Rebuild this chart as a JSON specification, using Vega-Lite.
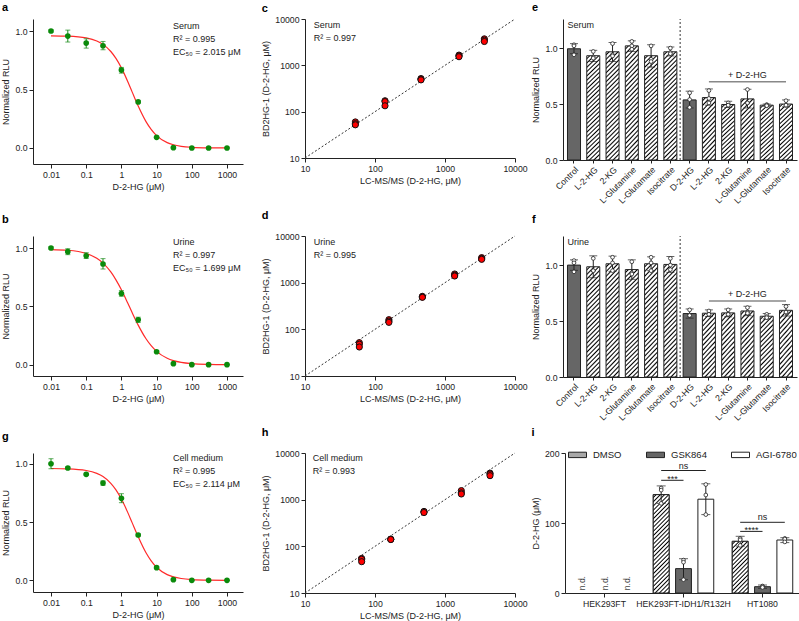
{
"$schema": "https://vega.github.io/schema/vega-lite/v6.json",
"background": "white",
"padding": {"left": 1, "top": 1, "right": 0, "bottom": 0},
"config": {
  "font": "Liberation Sans",
  "view": {"stroke": null},
  "axis": {"grid": false, "domainColor": "#222", "tickColor": "#222", "labelColor": "#222", "titleColor": "#222", "labelFontSize": 8.7, "titleFontSize": 9, "titleFontWeight": "normal", "tickSize": 4, "labelPadding": 2, "titlePadding": 4, "labelFlush": false, "labelOverlap": false, "domainWidth": 1, "tickWidth": 1},
  "title": {"fontSize": 11, "fontWeight": "bold", "anchor": "start", "frame": "bounds", "offset": 11, "color": "#000"}
},
"datasets": {
  "doseA": [{"x":0.01,"y":1.0,"lo":0.99,"hi":1.01},{"x":0.03,"y":0.957,"lo":0.906,"hi":1.008},{"x":0.1,"y":0.897,"lo":0.854,"hi":0.934},{"x":0.3,"y":0.874,"lo":0.84,"hi":0.911},{"x":1,"y":0.666,"lo":0.64,"hi":0.689},{"x":3,"y":0.394,"lo":0.385,"hi":0.403},{"x":10,"y":0.091,"lo":0.085,"hi":0.097},{"x":30,"y":0.003,"lo":0.0,"hi":0.006},{"x":100,"y":0.0,"lo":0.0,"hi":0.0},{"x":300,"y":0.0,"lo":0.0,"hi":0.0},{"x":1000,"y":0.0,"lo":0.0,"hi":0.0}],
  "doseB": [{"x":0.01,"y":1.0,"lo":0.99,"hi":1.01},{"x":0.03,"y":0.969,"lo":0.943,"hi":0.994},{"x":0.1,"y":0.934,"lo":0.91,"hi":0.96},{"x":0.3,"y":0.863,"lo":0.82,"hi":0.909},{"x":1,"y":0.61,"lo":0.587,"hi":0.635},{"x":3,"y":0.385,"lo":0.362,"hi":0.407},{"x":10,"y":0.111,"lo":0.105,"hi":0.117},{"x":30,"y":0.009,"lo":0.004,"hi":0.014},{"x":100,"y":0.0,"lo":0.0,"hi":0.0},{"x":300,"y":0.0,"lo":0.0,"hi":0.0},{"x":1000,"y":0.0,"lo":0.0,"hi":0.0}],
  "doseG": [{"x":0.01,"y":1.0,"lo":0.957,"hi":1.043},{"x":0.03,"y":0.963,"lo":0.955,"hi":0.971},{"x":0.1,"y":0.909,"lo":0.9,"hi":0.918},{"x":0.3,"y":0.834,"lo":0.815,"hi":0.853},{"x":1,"y":0.703,"lo":0.666,"hi":0.743},{"x":3,"y":0.389,"lo":0.38,"hi":0.398},{"x":10,"y":0.109,"lo":0.103,"hi":0.115},{"x":30,"y":0.006,"lo":0.002,"hi":0.01},{"x":100,"y":0.0,"lo":0.0,"hi":0.0},{"x":300,"y":0.0,"lo":0.0,"hi":0.0},{"x":1000,"y":0.0,"lo":0.0,"hi":0.0}],
  "curveA": [{"x":0.01,"y":0.959},{"x":0.03,"y":0.956},{"x":0.1,"y":0.941},{"x":0.2,"y":0.915},{"x":0.3,"y":0.886},{"x":0.5,"y":0.825},{"x":0.7,"y":0.766},{"x":1,"y":0.685},{"x":1.5,"y":0.571},{"x":2,"y":0.482},{"x":3,"y":0.358},{"x":5,"y":0.225},{"x":7,"y":0.159},{"x":10,"y":0.106},{"x":20,"y":0.046},{"x":30,"y":0.028},{"x":50,"y":0.0145},{"x":100,"y":0.006},{"x":300,"y":0.0014},{"x":1000,"y":0.0004}],
  "curveB": [{"x":0.01,"y":0.987},{"x":0.03,"y":0.981},{"x":0.1,"y":0.953},{"x":0.2,"y":0.912},{"x":0.3,"y":0.871},{"x":0.5,"y":0.795},{"x":0.7,"y":0.727},{"x":1,"y":0.642},{"x":1.5,"y":0.531},{"x":2,"y":0.449},{"x":3,"y":0.339},{"x":5,"y":0.222},{"x":7,"y":0.163},{"x":10,"y":0.114},{"x":20,"y":0.055},{"x":30,"y":0.035},{"x":50,"y":0.0198},{"x":100,"y":0.009},{"x":300,"y":0.0026},{"x":1000,"y":0.0006}],
  "curveG": [{"x":0.01,"y":0.959},{"x":0.03,"y":0.956},{"x":0.1,"y":0.942},{"x":0.2,"y":0.917},{"x":0.3,"y":0.89},{"x":0.5,"y":0.832},{"x":0.7,"y":0.776},{"x":1,"y":0.697},{"x":1.5,"y":0.585},{"x":2,"y":0.497},{"x":3,"y":0.373},{"x":5,"y":0.236},{"x":7,"y":0.167},{"x":10,"y":0.112},{"x":20,"y":0.049},{"x":30,"y":0.03},{"x":50,"y":0.0155},{"x":100,"y":0.0063},{"x":300,"y":0.0015},{"x":1000,"y":0.0003}],
  "diag": [{"x":10,"y":10},{"x":10000,"y":10000}],
  "scatC": [{"x":52.4,"y":60},{"x":52.4,"y":55},{"x":52.4,"y":52},{"x":139,"y":172},{"x":139,"y":165},{"x":139,"y":134},{"x":454,"y":518},{"x":454,"y":500},{"x":454,"y":485},{"x":1585,"y":1663},{"x":1585,"y":1600},{"x":1585,"y":1534},{"x":3648,"y":3728},{"x":3648,"y":3500},{"x":3648,"y":3268}],
  "scatD": [{"x":59.7,"y":51.8},{"x":59.7,"y":48},{"x":59.7,"y":41.8},{"x":158,"y":161},{"x":158,"y":150},{"x":158,"y":141},{"x":475,"y":509},{"x":475,"y":495},{"x":475,"y":485},{"x":1374,"y":1534},{"x":1374,"y":1450},{"x":1374,"y":1389},{"x":3342,"y":3433},{"x":3342,"y":3300},{"x":3342,"y":3162}],
  "scatH": [{"x":64.5,"y":55},{"x":64.5,"y":52.7},{"x":64.5,"y":46.9},{"x":168,"y":143},{"x":168,"y":141},{"x":168,"y":140},{"x":501,"y":544},{"x":501,"y":560},{"x":501,"y":530},{"x":1710,"y":1560},{"x":1710,"y":1400},{"x":1710,"y":1322},{"x":4395,"y":3700},{"x":4395,"y":3548},{"x":4395,"y":3268}],
  "barsE": [{"cond":"Control","kind":"solid","mean":0.994,"lo":0.95,"hi":1.04},{"cond":"L-2-HG","kind":"hatch","mean":0.932,"lo":0.88,"hi":0.98},{"cond":"2-KG","kind":"hatch","mean":0.967,"lo":0.88,"hi":1.05},{"cond":"L-Glutamine","kind":"hatch","mean":1.02,"lo":0.97,"hi":1.065},{"cond":"L-Glutamate","kind":"hatch","mean":0.932,"lo":0.83,"hi":1.03},{"cond":"Isocitrate","kind":"hatch","mean":0.967,"lo":0.93,"hi":1.01},{"cond":"D-2-HG","kind":"solid","mean":0.537,"lo":0.465,"hi":0.615},{"cond":"L-2-HG\u200b","kind":"hatch","mean":0.558,"lo":0.49,"hi":0.635},{"cond":"2-KG\u200b","kind":"hatch","mean":0.496,"lo":0.47,"hi":0.525},{"cond":"L-Glutamine\u200b","kind":"hatch","mean":0.546,"lo":0.465,"hi":0.632},{"cond":"L-Glutamate\u200b","kind":"hatch","mean":0.49,"lo":0.48,"hi":0.5},{"cond":"Isocitrate\u200b","kind":"hatch","mean":0.5,"lo":0.475,"hi":0.537}],
  "barsF": [{"cond":"Control","kind":"solid","mean":1.0,"lo":0.953,"hi":1.047},{"cond":"L-2-HG","kind":"hatch","mean":0.985,"lo":0.887,"hi":1.083},{"cond":"2-KG","kind":"hatch","mean":1.012,"lo":0.944,"hi":1.08},{"cond":"L-Glutamine","kind":"hatch","mean":0.96,"lo":0.873,"hi":1.047},{"cond":"L-Glutamate","kind":"hatch","mean":1.012,"lo":0.95,"hi":1.074},{"cond":"Isocitrate","kind":"hatch","mean":1.006,"lo":0.935,"hi":1.077},{"cond":"D-2-HG","kind":"solid","mean":0.567,"lo":0.526,"hi":0.608},{"cond":"L-2-HG\u200b","kind":"hatch","mean":0.57,"lo":0.54,"hi":0.6},{"cond":"2-KG\u200b","kind":"hatch","mean":0.573,"lo":0.538,"hi":0.608},{"cond":"L-Glutamine\u200b","kind":"hatch","mean":0.59,"lo":0.548,"hi":0.632},{"cond":"L-Glutamate\u200b","kind":"hatch","mean":0.543,"lo":0.519,"hi":0.567},{"cond":"Isocitrate\u200b","kind":"hatch","mean":0.596,"lo":0.545,"hi":0.647}],
  "ptsE": [{"cond":"Control","v":1.03},{"cond":"Control","v":1.02},{"cond":"Control","v":0.94},{"cond":"L-2-HG","v":0.97},{"cond":"L-2-HG","v":0.92},{"cond":"L-2-HG","v":0.91},{"cond":"2-KG","v":1.04},{"cond":"2-KG","v":0.94},{"cond":"2-KG","v":0.93},{"cond":"L-Glutamine","v":1.06},{"cond":"L-Glutamine","v":1.02},{"cond":"L-Glutamine","v":0.99},{"cond":"L-Glutamate","v":1.02},{"cond":"L-Glutamate","v":0.9},{"cond":"L-Glutamate","v":0.88},{"cond":"Isocitrate","v":1.0},{"cond":"Isocitrate","v":0.96},{"cond":"Isocitrate","v":0.95},{"cond":"D-2-HG","v":0.6},{"cond":"D-2-HG","v":0.54},{"cond":"D-2-HG","v":0.47},{"cond":"L-2-HG\u200b","v":0.62},{"cond":"L-2-HG\u200b","v":0.55},{"cond":"L-2-HG\u200b","v":0.51},{"cond":"2-KG\u200b","v":0.51},{"cond":"2-KG\u200b","v":0.49},{"cond":"2-KG\u200b","v":0.49},{"cond":"L-Glutamine\u200b","v":0.63},{"cond":"L-Glutamine\u200b","v":0.51},{"cond":"L-Glutamine\u200b","v":0.51},{"cond":"L-Glutamate\u200b","v":0.495},{"cond":"L-Glutamate\u200b","v":0.49},{"cond":"L-Glutamate\u200b","v":0.485},{"cond":"Isocitrate\u200b","v":0.53},{"cond":"Isocitrate\u200b","v":0.49},{"cond":"Isocitrate\u200b","v":0.49}],
  "ptsF": [{"cond":"Control","v":1.04},{"cond":"Control","v":1.02},{"cond":"Control","v":0.94},{"cond":"L-2-HG","v":1.06},{"cond":"L-2-HG","v":0.95},{"cond":"L-2-HG","v":0.95},{"cond":"2-KG","v":1.07},{"cond":"2-KG","v":1.02},{"cond":"2-KG","v":0.95},{"cond":"L-Glutamine","v":1.03},{"cond":"L-Glutamine","v":0.93},{"cond":"L-Glutamine","v":0.92},{"cond":"L-Glutamate","v":1.07},{"cond":"L-Glutamate","v":1.02},{"cond":"L-Glutamate","v":0.95},{"cond":"Isocitrate","v":1.06},{"cond":"Isocitrate","v":1.0},{"cond":"Isocitrate","v":0.96},{"cond":"D-2-HG","v":0.6},{"cond":"D-2-HG","v":0.55},{"cond":"D-2-HG","v":0.55},{"cond":"L-2-HG\u200b","v":0.59},{"cond":"L-2-HG\u200b","v":0.56},{"cond":"L-2-HG\u200b","v":0.56},{"cond":"2-KG\u200b","v":0.6},{"cond":"2-KG\u200b","v":0.56},{"cond":"2-KG\u200b","v":0.56},{"cond":"L-Glutamine\u200b","v":0.62},{"cond":"L-Glutamine\u200b","v":0.58},{"cond":"L-Glutamine\u200b","v":0.57},{"cond":"L-Glutamate\u200b","v":0.56},{"cond":"L-Glutamate\u200b","v":0.54},{"cond":"L-Glutamate\u200b","v":0.53},{"cond":"Isocitrate\u200b","v":0.63},{"cond":"Isocitrate\u200b","v":0.58},{"cond":"Isocitrate\u200b","v":0.58}],
  "barsI": [{"group":"HEK293FT-IDH1/R132H","treatment":"DMSO","mean":140.5,"lo":128,"hi":153},{"group":"HEK293FT-IDH1/R132H","treatment":"GSK864","mean":34.8,"lo":19,"hi":49},{"group":"HEK293FT-IDH1/R132H","treatment":"AGI-6780","mean":134,"lo":112,"hi":156},{"group":"HT1080","treatment":"DMSO","mean":73.8,"lo":67,"hi":81},{"group":"HT1080","treatment":"GSK864","mean":9,"lo":6.7,"hi":11.4},{"group":"HT1080","treatment":"AGI-6780","mean":75.7,"lo":72,"hi":79}],
  "ptsI": [{"group":"HEK293FT-IDH1/R132H","treatment":"DMSO","v":150},{"group":"HEK293FT-IDH1/R132H","treatment":"DMSO","v":147},{"group":"HEK293FT-IDH1/R132H","treatment":"DMSO","v":128},{"group":"HEK293FT-IDH1/R132H","treatment":"GSK864","v":47},{"group":"HEK293FT-IDH1/R132H","treatment":"GSK864","v":44},{"group":"HEK293FT-IDH1/R132H","treatment":"GSK864","v":19},{"group":"HEK293FT-IDH1/R132H","treatment":"AGI-6780","v":155},{"group":"HEK293FT-IDH1/R132H","treatment":"AGI-6780","v":140},{"group":"HEK293FT-IDH1/R132H","treatment":"AGI-6780","v":112},{"group":"HT1080","treatment":"DMSO","v":78},{"group":"HT1080","treatment":"DMSO","v":76},{"group":"HT1080","treatment":"DMSO","v":68},{"group":"HT1080","treatment":"GSK864","v":10},{"group":"HT1080","treatment":"GSK864","v":9},{"group":"HT1080","treatment":"GSK864","v":8},{"group":"HT1080","treatment":"AGI-6780","v":78},{"group":"HT1080","treatment":"AGI-6780","v":77},{"group":"HT1080","treatment":"AGI-6780","v":73}],
  "ndI": [{"group":"HEK293FT","treatment":"DMSO"},{"group":"HEK293FT","treatment":"GSK864"},{"group":"HEK293FT","treatment":"AGI-6780"}],
  "sigI": [{"id":"s1","group":"HEK293FT-IDH1/R132H","treatment":"DMSO","y":161},{"id":"s1","group":"HEK293FT-IDH1/R132H","treatment":"GSK864","y":161},{"id":"s2","group":"HEK293FT-IDH1/R132H","treatment":"DMSO","y":175},{"id":"s2","group":"HEK293FT-IDH1/R132H","treatment":"AGI-6780","y":175},{"id":"s3","group":"HT1080","treatment":"DMSO","y":88},{"id":"s3","group":"HT1080","treatment":"GSK864","y":88},{"id":"s4","group":"HT1080","treatment":"DMSO","y":101},{"id":"s4","group":"HT1080","treatment":"AGI-6780","y":101}],
  "starI": [{"group":"HEK293FT-IDH1/R132H","treatment":"GSK864","y":161,"label":"***"},{"group":"HT1080","treatment":"GSK864","y":88,"label":"****"}],
  "nsI": [{"group":"HEK293FT-IDH1/R132H","treatment":"GSK864","y":175,"label":"ns"},{"group":"HT1080","treatment":"GSK864","y":101,"label":"ns"}]
},
"spacing": 5,
"vconcat": [
 {"spacing": 3, "hconcat": [
  {"spacing": 18, "hconcat": [
   {"title": {"text": "a", "offset": 6}, "width": 210, "height": 145, "layer": [
    {"data": {"name": "curveA"}, "mark": {"type": "line", "color": "#ff2a2a", "strokeWidth": 1.2, "interpolate": "monotone"},
     "encoding": {"x": {"field": "x", "type": "quantitative", "scale": {"type": "log", "domain": [0.00308, 2847], "nice": false}, "axis": {"values": [0.01, 0.1, 1, 10, 100, 1000], "format": "~g"}, "title": "D-2-HG (μM)"},
                  "y": {"field": "y", "type": "quantitative", "scale": {"domain": [-0.137, 1.103], "nice": false, "zero": false}, "axis": {"values": [0, 0.5, 1], "format": ".1f"}, "title": "Normalized RLU"}}},
    {"data": {"name": "doseA"}, "mark": {"type": "rule", "color": "#1a8c1a", "strokeWidth": 1}, "encoding": {"x": {"field": "x", "type": "quantitative", "title": "D-2-HG (μM)"}, "y": {"field": "lo", "type": "quantitative", "title": "Normalized RLU"}, "y2": {"field": "hi"}}},
    {"data": {"name": "doseA"}, "mark": {"type": "tick", "orient": "horizontal", "color": "#1a8c1a", "size": 5, "thickness": 1}, "encoding": {"x": {"field": "x", "type": "quantitative", "title": "D-2-HG (μM)"}, "y": {"field": "hi", "type": "quantitative", "title": "Normalized RLU"}}},
    {"data": {"name": "doseA"}, "mark": {"type": "tick", "orient": "horizontal", "color": "#1a8c1a", "size": 5, "thickness": 1}, "encoding": {"x": {"field": "x", "type": "quantitative", "title": "D-2-HG (μM)"}, "y": {"field": "lo", "type": "quantitative", "title": "Normalized RLU"}}},
    {"data": {"name": "doseA"}, "mark": {"type": "circle", "color": "#0b8a0b", "size": 32, "opacity": 1}, "encoding": {"x": {"field": "x", "type": "quantitative", "title": "D-2-HG (μM)"}, "y": {"field": "y", "type": "quantitative", "title": "Normalized RLU"}}},
    {"data": {"values": [{}]}, "mark": {"type": "text", "text": ["Serum", "R² = 0.995", "EC₅₀ = 2.015 μM"], "align": "left", "baseline": "top", "fontSize": 9, "lineHeight": 13, "color": "#222"}, "encoding": {"x": {"datum": 29}, "y": {"datum": 1.08}}}
   ]},
   {"title": {"text": "c", "offset": 1}, "width": 210, "height": 139, "layer": [
    {"data": {"name": "diag"}, "mark": {"type": "line", "color": "#333", "strokeWidth": 1, "strokeDash": [2, 2]},
     "encoding": {"x": {"field": "x", "type": "quantitative", "scale": {"type": "log", "domain": [10, 10000], "nice": false}, "axis": {"values": [10, 100, 1000, 10000], "format": "~g"}, "title": "LC-MS/MS (D-2-HG, μM)"},
                  "y": {"field": "y", "type": "quantitative", "scale": {"type": "log", "domain": [10, 10000], "nice": false}, "axis": {"values": [10, 100, 1000, 10000], "format": "~g"}, "title": "BD2HG-1 (D-2-HG, μM)"}}},
    {"data": {"name": "scatC"}, "mark": {"type": "point", "shape": "circle", "filled": true, "fill": "#ff0000", "stroke": "#111", "strokeWidth": 1, "size": 38, "opacity": 1}, "encoding": {"x": {"field": "x", "type": "quantitative", "title": "LC-MS/MS (D-2-HG, μM)"}, "y": {"field": "y", "type": "quantitative", "title": "BD2HG-1 (D-2-HG, μM)"}}},
    {"data": {"values": [{}]}, "mark": {"type": "text", "text": ["Serum", "R² = 0.997"], "align": "left", "baseline": "top", "fontSize": 9, "lineHeight": 13, "color": "#222"}, "encoding": {"x": {"datum": 13.3}, "y": {"datum": 9000}}}
   ]}
  ]},
  {"title": {"text": "e", "offset": 6}, "width": 234, "height": 141, "layer": [
    {"data": {"name": "barsE"}, "transform": [{"filter": "datum.kind === 'solid'"}], "mark": {"type": "bar", "fill": "#666666", "stroke": "#222", "strokeWidth": 1},
     "encoding": {"x": {"field": "cond", "type": "nominal", "scale": {"domain": ["Control", "L-2-HG", "2-KG", "L-Glutamine", "L-Glutamate", "Isocitrate", "D-2-HG", "L-2-HG\u200b", "2-KG\u200b", "L-Glutamine\u200b", "L-Glutamate\u200b", "Isocitrate\u200b"], "paddingInner": 0.325, "paddingOuter": 0.233}, "axis": {"labelAngle": -45, "labelAlign": "right", "labelBaseline": "top", "tickSize": 3}, "title": null},
                  "y": {"field": "mean", "type": "quantitative", "scale": {"domain": [0, 1.26], "nice": false}, "axis": {"values": [0, 0.5, 1], "format": ".1f"}, "title": "Normalized RLU"}}},
    {"data": {"name": "barsE"}, "transform": [{"filter": "datum.kind === 'hatch' && datum.mean > 0.75"}], "mark": {"type": "bar", "stroke": "#222", "strokeWidth": 1, "fill": {"gradient": "linear", "x1": 0, "y1": 0, "x2": 0.133, "y2": 1.104, "stops": [{"offset":0,"color":"#fff"},{"offset":0.013,"color":"#fff"},{"offset":0.0259,"color":"#000"},{"offset":0.037,"color":"#fff"},{"offset":0.05,"color":"#fff"},{"offset":0.063,"color":"#000"},{"offset":0.0741,"color":"#fff"},{"offset":0.087,"color":"#fff"},{"offset":0.1,"color":"#000"},{"offset":0.1111,"color":"#fff"},{"offset":0.1241,"color":"#fff"},{"offset":0.137,"color":"#000"},{"offset":0.1481,"color":"#fff"},{"offset":0.1611,"color":"#fff"},{"offset":0.1741,"color":"#000"},{"offset":0.1852,"color":"#fff"},{"offset":0.1981,"color":"#fff"},{"offset":0.2111,"color":"#000"},{"offset":0.2222,"color":"#fff"},{"offset":0.2352,"color":"#fff"},{"offset":0.2481,"color":"#000"},{"offset":0.2593,"color":"#fff"},{"offset":0.2722,"color":"#fff"},{"offset":0.2852,"color":"#000"},{"offset":0.2963,"color":"#fff"},{"offset":0.3093,"color":"#fff"},{"offset":0.3222,"color":"#000"},{"offset":0.3333,"color":"#fff"},{"offset":0.3463,"color":"#fff"},{"offset":0.3593,"color":"#000"},{"offset":0.3704,"color":"#fff"},{"offset":0.3833,"color":"#fff"},{"offset":0.3963,"color":"#000"},{"offset":0.4074,"color":"#fff"},{"offset":0.4204,"color":"#fff"},{"offset":0.4333,"color":"#000"},{"offset":0.4444,"color":"#fff"},{"offset":0.4574,"color":"#fff"},{"offset":0.4704,"color":"#000"},{"offset":0.4815,"color":"#fff"},{"offset":0.4944,"color":"#fff"},{"offset":0.5074,"color":"#000"},{"offset":0.5185,"color":"#fff"},{"offset":0.5315,"color":"#fff"},{"offset":0.5444,"color":"#000"},{"offset":0.5556,"color":"#fff"},{"offset":0.5685,"color":"#fff"},{"offset":0.5815,"color":"#000"},{"offset":0.5926,"color":"#fff"},{"offset":0.6056,"color":"#fff"},{"offset":0.6185,"color":"#000"},{"offset":0.6296,"color":"#fff"},{"offset":0.6426,"color":"#fff"},{"offset":0.6556,"color":"#000"},{"offset":0.6667,"color":"#fff"},{"offset":0.6796,"color":"#fff"},{"offset":0.6926,"color":"#000"},{"offset":0.7037,"color":"#fff"},{"offset":0.7167,"color":"#fff"},{"offset":0.7296,"color":"#000"},{"offset":0.7407,"color":"#fff"},{"offset":0.7537,"color":"#fff"},{"offset":0.7667,"color":"#000"},{"offset":0.7778,"color":"#fff"},{"offset":0.7907,"color":"#fff"},{"offset":0.8037,"color":"#000"},{"offset":0.8148,"color":"#fff"},{"offset":0.8278,"color":"#fff"},{"offset":0.8407,"color":"#000"},{"offset":0.8519,"color":"#fff"},{"offset":0.8648,"color":"#fff"},{"offset":0.8778,"color":"#000"},{"offset":0.8889,"color":"#fff"},{"offset":0.9019,"color":"#fff"},{"offset":0.9148,"color":"#000"},{"offset":0.9259,"color":"#fff"},{"offset":0.9389,"color":"#fff"},{"offset":0.9519,"color":"#000"},{"offset":0.963,"color":"#fff"},{"offset":0.9759,"color":"#fff"},{"offset":0.9889,"color":"#000"},{"offset":1,"color":"#fff"}]}}, "encoding": {"x": {"field": "cond", "type": "nominal", "title": null}, "y": {"field": "mean", "type": "quantitative", "title": "Normalized RLU"}}},
    {"data": {"name": "barsE"}, "transform": [{"filter": "datum.kind === 'hatch' && datum.mean <= 0.75"}], "mark": {"type": "bar", "stroke": "#222", "strokeWidth": 1, "fill": {"gradient": "linear", "x1": 0, "y1": 0, "x2": 0.256, "y2": 1.164, "stops": [{"offset":0,"color":"#fff"},{"offset":0.0219,"color":"#fff"},{"offset":0.0438,"color":"#000"},{"offset":0.0625,"color":"#fff"},{"offset":0.0844,"color":"#fff"},{"offset":0.1063,"color":"#000"},{"offset":0.125,"color":"#fff"},{"offset":0.1469,"color":"#fff"},{"offset":0.1688,"color":"#000"},{"offset":0.1875,"color":"#fff"},{"offset":0.2094,"color":"#fff"},{"offset":0.2313,"color":"#000"},{"offset":0.25,"color":"#fff"},{"offset":0.2719,"color":"#fff"},{"offset":0.2938,"color":"#000"},{"offset":0.3125,"color":"#fff"},{"offset":0.3344,"color":"#fff"},{"offset":0.3563,"color":"#000"},{"offset":0.375,"color":"#fff"},{"offset":0.3969,"color":"#fff"},{"offset":0.4188,"color":"#000"},{"offset":0.4375,"color":"#fff"},{"offset":0.4594,"color":"#fff"},{"offset":0.4813,"color":"#000"},{"offset":0.5,"color":"#fff"},{"offset":0.5219,"color":"#fff"},{"offset":0.5438,"color":"#000"},{"offset":0.5625,"color":"#fff"},{"offset":0.5844,"color":"#fff"},{"offset":0.6063,"color":"#000"},{"offset":0.625,"color":"#fff"},{"offset":0.6469,"color":"#fff"},{"offset":0.6688,"color":"#000"},{"offset":0.6875,"color":"#fff"},{"offset":0.7094,"color":"#fff"},{"offset":0.7313,"color":"#000"},{"offset":0.75,"color":"#fff"},{"offset":0.7719,"color":"#fff"},{"offset":0.7938,"color":"#000"},{"offset":0.8125,"color":"#fff"},{"offset":0.8344,"color":"#fff"},{"offset":0.8563,"color":"#000"},{"offset":0.875,"color":"#fff"},{"offset":0.8969,"color":"#fff"},{"offset":0.9188,"color":"#000"},{"offset":0.9375,"color":"#fff"},{"offset":0.9594,"color":"#fff"},{"offset":0.9813,"color":"#000"},{"offset":1,"color":"#fff"}]}}, "encoding": {"x": {"field": "cond", "type": "nominal", "title": null}, "y": {"field": "mean", "type": "quantitative", "title": "Normalized RLU"}}},
    {"data": {"name": "barsE"}, "mark": {"type": "rule", "color": "#222", "strokeWidth": 1}, "encoding": {"x": {"field": "cond", "type": "nominal", "title": null}, "y": {"field": "lo", "type": "quantitative", "title": "Normalized RLU"}, "y2": {"field": "hi"}}},
    {"data": {"name": "barsE"}, "mark": {"type": "tick", "orient": "horizontal", "color": "#222", "size": 8, "thickness": 1}, "encoding": {"x": {"field": "cond", "type": "nominal", "title": null}, "y": {"field": "hi", "type": "quantitative", "title": "Normalized RLU"}}},
    {"data": {"name": "barsE"}, "mark": {"type": "tick", "orient": "horizontal", "color": "#222", "size": 8, "thickness": 1}, "encoding": {"x": {"field": "cond", "type": "nominal", "title": null}, "y": {"field": "lo", "type": "quantitative", "title": "Normalized RLU"}}},
    {"data": {"name": "ptsE"}, "mark": {"type": "point", "shape": "circle", "filled": true, "fill": "#fff", "stroke": "#222", "strokeWidth": 0.8, "size": 14, "opacity": 1}, "encoding": {"x": {"field": "cond", "type": "nominal", "title": null}, "y": {"field": "v", "type": "quantitative", "title": "Normalized RLU"}}},
    {"data": {"values": [{}]}, "mark": {"type": "rule", "color": "#333", "strokeDash": [2, 2], "strokeWidth": 1, "xOffset": -3}, "encoding": {"x": {"datum": "D-2-HG", "type": "nominal", "bandPosition": 0}, "y": {"datum": 0, "type": "quantitative"}, "y2": {"datum": 1.26}}},
    {"data": {"values": [{}]}, "mark": {"type": "rule", "color": "#888", "strokeWidth": 1.5}, "encoding": {"x": {"datum": "L-2-HG\u200b", "type": "nominal"}, "x2": {"datum": "Isocitrate\u200b"}, "y": {"datum": 0.7, "type": "quantitative"}}},
    {"data": {"values": [{}]}, "mark": {"type": "text", "text": "+ D-2-HG", "baseline": "bottom", "dy": -2, "fontSize": 9, "color": "#222"}, "encoding": {"x": {"datum": "L-Glutamine\u200b", "type": "nominal"}, "y": {"datum": 0.7, "type": "quantitative"}}},
    {"data": {"values": [{}]}, "mark": {"type": "text", "text": "Serum", "align": "left", "baseline": "top", "fontSize": 9, "color": "#222"}, "encoding": {"x": {"datum": "Control", "type": "nominal", "bandPosition": 0}, "y": {"datum": 1.24, "type": "quantitative"}}}
  ]}
 ]},
 {"spacing": 3, "hconcat": [
  {"spacing": 18, "hconcat": [
   {"title": {"text": "b"}, "width": 210, "height": 140, "layer": [
    {"data": {"name": "curveB"}, "mark": {"type": "line", "color": "#ff2a2a", "strokeWidth": 1.2, "interpolate": "monotone"},
     "encoding": {"x": {"field": "x", "type": "quantitative", "scale": {"type": "log", "domain": [0.00308, 2847], "nice": false}, "axis": {"values": [0.01, 0.1, 1, 10, 100, 1000], "format": "~g"}, "title": "D-2-HG (μM)"},
                  "y": {"field": "y", "type": "quantitative", "scale": {"domain": [-0.097, 1.103], "nice": false, "zero": false}, "axis": {"values": [0, 0.5, 1], "format": ".1f"}, "title": "Normalized RLU"}}},
    {"data": {"name": "doseB"}, "mark": {"type": "rule", "color": "#1a8c1a", "strokeWidth": 1}, "encoding": {"x": {"field": "x", "type": "quantitative", "title": "D-2-HG (μM)"}, "y": {"field": "lo", "type": "quantitative", "title": "Normalized RLU"}, "y2": {"field": "hi"}}},
    {"data": {"name": "doseB"}, "mark": {"type": "tick", "orient": "horizontal", "color": "#1a8c1a", "size": 5, "thickness": 1}, "encoding": {"x": {"field": "x", "type": "quantitative", "title": "D-2-HG (μM)"}, "y": {"field": "hi", "type": "quantitative", "title": "Normalized RLU"}}},
    {"data": {"name": "doseB"}, "mark": {"type": "tick", "orient": "horizontal", "color": "#1a8c1a", "size": 5, "thickness": 1}, "encoding": {"x": {"field": "x", "type": "quantitative", "title": "D-2-HG (μM)"}, "y": {"field": "lo", "type": "quantitative", "title": "Normalized RLU"}}},
    {"data": {"name": "doseB"}, "mark": {"type": "circle", "color": "#0b8a0b", "size": 32, "opacity": 1}, "encoding": {"x": {"field": "x", "type": "quantitative", "title": "D-2-HG (μM)"}, "y": {"field": "y", "type": "quantitative", "title": "Normalized RLU"}}},
    {"data": {"values": [{}]}, "mark": {"type": "text", "text": ["Urine", "R² = 0.997", "EC₅₀ = 1.699 μM"], "align": "left", "baseline": "top", "fontSize": 9, "lineHeight": 13, "color": "#222"}, "encoding": {"x": {"datum": 29}, "y": {"datum": 1.085}}}
   ]},
   {"title": {"text": "d"}, "width": 210, "height": 140, "layer": [
    {"data": {"name": "diag"}, "mark": {"type": "line", "color": "#333", "strokeWidth": 1, "strokeDash": [2, 2]},
     "encoding": {"x": {"field": "x", "type": "quantitative", "scale": {"type": "log", "domain": [10, 10000], "nice": false}, "axis": {"values": [10, 100, 1000, 10000], "format": "~g"}, "title": "LC-MS/MS (D-2-HG, μM)"},
                  "y": {"field": "y", "type": "quantitative", "scale": {"type": "log", "domain": [10, 10000], "nice": false}, "axis": {"values": [10, 100, 1000, 10000], "format": "~g"}, "title": "BD2HG-1 (D-2-HG, μM)"}}},
    {"data": {"name": "scatD"}, "mark": {"type": "point", "shape": "circle", "filled": true, "fill": "#ff0000", "stroke": "#111", "strokeWidth": 1, "size": 38, "opacity": 1}, "encoding": {"x": {"field": "x", "type": "quantitative", "title": "LC-MS/MS (D-2-HG, μM)"}, "y": {"field": "y", "type": "quantitative", "title": "BD2HG-1 (D-2-HG, μM)"}}},
    {"data": {"values": [{}]}, "mark": {"type": "text", "text": ["Urine", "R² = 0.995"], "align": "left", "baseline": "top", "fontSize": 9, "lineHeight": 13, "color": "#222"}, "encoding": {"x": {"datum": 13.3}, "y": {"datum": 9200}}}
   ]}
  ]},
  {"title": {"text": "f"}, "width": 234, "height": 141, "layer": [
    {"data": {"name": "barsF"}, "transform": [{"filter": "datum.kind === 'solid'"}], "mark": {"type": "bar", "fill": "#666666", "stroke": "#222", "strokeWidth": 1},
     "encoding": {"x": {"field": "cond", "type": "nominal", "scale": {"domain": ["Control", "L-2-HG", "2-KG", "L-Glutamine", "L-Glutamate", "Isocitrate", "D-2-HG", "L-2-HG\u200b", "2-KG\u200b", "L-Glutamine\u200b", "L-Glutamate\u200b", "Isocitrate\u200b"], "paddingInner": 0.325, "paddingOuter": 0.233}, "axis": {"labelAngle": -45, "labelAlign": "right", "labelBaseline": "top", "tickSize": 3}, "title": null},
                  "y": {"field": "mean", "type": "quantitative", "scale": {"domain": [0, 1.26], "nice": false}, "axis": {"values": [0, 0.5, 1], "format": ".1f"}, "title": "Normalized RLU"}}},
    {"data": {"name": "barsF"}, "transform": [{"filter": "datum.kind === 'hatch' && datum.mean > 0.75"}], "mark": {"type": "bar", "stroke": "#222", "strokeWidth": 1, "fill": {"gradient": "linear", "x1": 0, "y1": 0, "x2": 0.133, "y2": 1.104, "stops": [{"offset":0,"color":"#fff"},{"offset":0.013,"color":"#fff"},{"offset":0.0259,"color":"#000"},{"offset":0.037,"color":"#fff"},{"offset":0.05,"color":"#fff"},{"offset":0.063,"color":"#000"},{"offset":0.0741,"color":"#fff"},{"offset":0.087,"color":"#fff"},{"offset":0.1,"color":"#000"},{"offset":0.1111,"color":"#fff"},{"offset":0.1241,"color":"#fff"},{"offset":0.137,"color":"#000"},{"offset":0.1481,"color":"#fff"},{"offset":0.1611,"color":"#fff"},{"offset":0.1741,"color":"#000"},{"offset":0.1852,"color":"#fff"},{"offset":0.1981,"color":"#fff"},{"offset":0.2111,"color":"#000"},{"offset":0.2222,"color":"#fff"},{"offset":0.2352,"color":"#fff"},{"offset":0.2481,"color":"#000"},{"offset":0.2593,"color":"#fff"},{"offset":0.2722,"color":"#fff"},{"offset":0.2852,"color":"#000"},{"offset":0.2963,"color":"#fff"},{"offset":0.3093,"color":"#fff"},{"offset":0.3222,"color":"#000"},{"offset":0.3333,"color":"#fff"},{"offset":0.3463,"color":"#fff"},{"offset":0.3593,"color":"#000"},{"offset":0.3704,"color":"#fff"},{"offset":0.3833,"color":"#fff"},{"offset":0.3963,"color":"#000"},{"offset":0.4074,"color":"#fff"},{"offset":0.4204,"color":"#fff"},{"offset":0.4333,"color":"#000"},{"offset":0.4444,"color":"#fff"},{"offset":0.4574,"color":"#fff"},{"offset":0.4704,"color":"#000"},{"offset":0.4815,"color":"#fff"},{"offset":0.4944,"color":"#fff"},{"offset":0.5074,"color":"#000"},{"offset":0.5185,"color":"#fff"},{"offset":0.5315,"color":"#fff"},{"offset":0.5444,"color":"#000"},{"offset":0.5556,"color":"#fff"},{"offset":0.5685,"color":"#fff"},{"offset":0.5815,"color":"#000"},{"offset":0.5926,"color":"#fff"},{"offset":0.6056,"color":"#fff"},{"offset":0.6185,"color":"#000"},{"offset":0.6296,"color":"#fff"},{"offset":0.6426,"color":"#fff"},{"offset":0.6556,"color":"#000"},{"offset":0.6667,"color":"#fff"},{"offset":0.6796,"color":"#fff"},{"offset":0.6926,"color":"#000"},{"offset":0.7037,"color":"#fff"},{"offset":0.7167,"color":"#fff"},{"offset":0.7296,"color":"#000"},{"offset":0.7407,"color":"#fff"},{"offset":0.7537,"color":"#fff"},{"offset":0.7667,"color":"#000"},{"offset":0.7778,"color":"#fff"},{"offset":0.7907,"color":"#fff"},{"offset":0.8037,"color":"#000"},{"offset":0.8148,"color":"#fff"},{"offset":0.8278,"color":"#fff"},{"offset":0.8407,"color":"#000"},{"offset":0.8519,"color":"#fff"},{"offset":0.8648,"color":"#fff"},{"offset":0.8778,"color":"#000"},{"offset":0.8889,"color":"#fff"},{"offset":0.9019,"color":"#fff"},{"offset":0.9148,"color":"#000"},{"offset":0.9259,"color":"#fff"},{"offset":0.9389,"color":"#fff"},{"offset":0.9519,"color":"#000"},{"offset":0.963,"color":"#fff"},{"offset":0.9759,"color":"#fff"},{"offset":0.9889,"color":"#000"},{"offset":1,"color":"#fff"}]}}, "encoding": {"x": {"field": "cond", "type": "nominal", "title": null}, "y": {"field": "mean", "type": "quantitative", "title": "Normalized RLU"}}},
    {"data": {"name": "barsF"}, "transform": [{"filter": "datum.kind === 'hatch' && datum.mean <= 0.75"}], "mark": {"type": "bar", "stroke": "#222", "strokeWidth": 1, "fill": {"gradient": "linear", "x1": 0, "y1": 0, "x2": 0.256, "y2": 1.164, "stops": [{"offset":0,"color":"#fff"},{"offset":0.0219,"color":"#fff"},{"offset":0.0438,"color":"#000"},{"offset":0.0625,"color":"#fff"},{"offset":0.0844,"color":"#fff"},{"offset":0.1063,"color":"#000"},{"offset":0.125,"color":"#fff"},{"offset":0.1469,"color":"#fff"},{"offset":0.1688,"color":"#000"},{"offset":0.1875,"color":"#fff"},{"offset":0.2094,"color":"#fff"},{"offset":0.2313,"color":"#000"},{"offset":0.25,"color":"#fff"},{"offset":0.2719,"color":"#fff"},{"offset":0.2938,"color":"#000"},{"offset":0.3125,"color":"#fff"},{"offset":0.3344,"color":"#fff"},{"offset":0.3563,"color":"#000"},{"offset":0.375,"color":"#fff"},{"offset":0.3969,"color":"#fff"},{"offset":0.4188,"color":"#000"},{"offset":0.4375,"color":"#fff"},{"offset":0.4594,"color":"#fff"},{"offset":0.4813,"color":"#000"},{"offset":0.5,"color":"#fff"},{"offset":0.5219,"color":"#fff"},{"offset":0.5438,"color":"#000"},{"offset":0.5625,"color":"#fff"},{"offset":0.5844,"color":"#fff"},{"offset":0.6063,"color":"#000"},{"offset":0.625,"color":"#fff"},{"offset":0.6469,"color":"#fff"},{"offset":0.6688,"color":"#000"},{"offset":0.6875,"color":"#fff"},{"offset":0.7094,"color":"#fff"},{"offset":0.7313,"color":"#000"},{"offset":0.75,"color":"#fff"},{"offset":0.7719,"color":"#fff"},{"offset":0.7938,"color":"#000"},{"offset":0.8125,"color":"#fff"},{"offset":0.8344,"color":"#fff"},{"offset":0.8563,"color":"#000"},{"offset":0.875,"color":"#fff"},{"offset":0.8969,"color":"#fff"},{"offset":0.9188,"color":"#000"},{"offset":0.9375,"color":"#fff"},{"offset":0.9594,"color":"#fff"},{"offset":0.9813,"color":"#000"},{"offset":1,"color":"#fff"}]}}, "encoding": {"x": {"field": "cond", "type": "nominal", "title": null}, "y": {"field": "mean", "type": "quantitative", "title": "Normalized RLU"}}},
    {"data": {"name": "barsF"}, "mark": {"type": "rule", "color": "#222", "strokeWidth": 1}, "encoding": {"x": {"field": "cond", "type": "nominal", "title": null}, "y": {"field": "lo", "type": "quantitative", "title": "Normalized RLU"}, "y2": {"field": "hi"}}},
    {"data": {"name": "barsF"}, "mark": {"type": "tick", "orient": "horizontal", "color": "#222", "size": 8, "thickness": 1}, "encoding": {"x": {"field": "cond", "type": "nominal", "title": null}, "y": {"field": "hi", "type": "quantitative", "title": "Normalized RLU"}}},
    {"data": {"name": "barsF"}, "mark": {"type": "tick", "orient": "horizontal", "color": "#222", "size": 8, "thickness": 1}, "encoding": {"x": {"field": "cond", "type": "nominal", "title": null}, "y": {"field": "lo", "type": "quantitative", "title": "Normalized RLU"}}},
    {"data": {"name": "ptsF"}, "mark": {"type": "point", "shape": "circle", "filled": true, "fill": "#fff", "stroke": "#222", "strokeWidth": 0.8, "size": 14, "opacity": 1}, "encoding": {"x": {"field": "cond", "type": "nominal", "title": null}, "y": {"field": "v", "type": "quantitative", "title": "Normalized RLU"}}},
    {"data": {"values": [{}]}, "mark": {"type": "rule", "color": "#333", "strokeDash": [2, 2], "strokeWidth": 1, "xOffset": -3}, "encoding": {"x": {"datum": "D-2-HG", "type": "nominal", "bandPosition": 0}, "y": {"datum": 0, "type": "quantitative"}, "y2": {"datum": 1.26}}},
    {"data": {"values": [{}]}, "mark": {"type": "rule", "color": "#888", "strokeWidth": 1.5}, "encoding": {"x": {"datum": "L-2-HG\u200b", "type": "nominal"}, "x2": {"datum": "Isocitrate\u200b"}, "y": {"datum": 0.68, "type": "quantitative"}}},
    {"data": {"values": [{}]}, "mark": {"type": "text", "text": "+ D-2-HG", "baseline": "bottom", "dy": -2, "fontSize": 9, "color": "#222"}, "encoding": {"x": {"datum": "L-Glutamine\u200b", "type": "nominal"}, "y": {"datum": 0.68, "type": "quantitative"}}},
    {"data": {"values": [{}]}, "mark": {"type": "text", "text": "Urine", "align": "left", "baseline": "top", "fontSize": 9, "color": "#222"}, "encoding": {"x": {"datum": "Control", "type": "nominal", "bandPosition": 0}, "y": {"datum": 1.245, "type": "quantitative"}}}
  ]}
 ]},
 {"spacing": 3, "hconcat": [
  {"spacing": 18, "hconcat": [
   {"title": {"text": "g"}, "width": 210, "height": 139, "layer": [
    {"data": {"name": "curveG"}, "mark": {"type": "line", "color": "#ff2a2a", "strokeWidth": 1.2, "interpolate": "monotone"},
     "encoding": {"x": {"field": "x", "type": "quantitative", "scale": {"type": "log", "domain": [0.00308, 2847], "nice": false}, "axis": {"values": [0.01, 0.1, 1, 10, 100, 1000], "format": "~g"}, "title": "D-2-HG (μM)"},
                  "y": {"field": "y", "type": "quantitative", "scale": {"domain": [-0.1, 1.092], "nice": false, "zero": false}, "axis": {"values": [0, 0.5, 1], "format": ".1f"}, "title": "Normalized RLU"}}},
    {"data": {"name": "doseG"}, "mark": {"type": "rule", "color": "#1a8c1a", "strokeWidth": 1}, "encoding": {"x": {"field": "x", "type": "quantitative", "title": "D-2-HG (μM)"}, "y": {"field": "lo", "type": "quantitative", "title": "Normalized RLU"}, "y2": {"field": "hi"}}},
    {"data": {"name": "doseG"}, "mark": {"type": "tick", "orient": "horizontal", "color": "#1a8c1a", "size": 5, "thickness": 1}, "encoding": {"x": {"field": "x", "type": "quantitative", "title": "D-2-HG (μM)"}, "y": {"field": "hi", "type": "quantitative", "title": "Normalized RLU"}}},
    {"data": {"name": "doseG"}, "mark": {"type": "tick", "orient": "horizontal", "color": "#1a8c1a", "size": 5, "thickness": 1}, "encoding": {"x": {"field": "x", "type": "quantitative", "title": "D-2-HG (μM)"}, "y": {"field": "lo", "type": "quantitative", "title": "Normalized RLU"}}},
    {"data": {"name": "doseG"}, "mark": {"type": "circle", "color": "#0b8a0b", "size": 32, "opacity": 1}, "encoding": {"x": {"field": "x", "type": "quantitative", "title": "D-2-HG (μM)"}, "y": {"field": "y", "type": "quantitative", "title": "Normalized RLU"}}},
    {"data": {"values": [{}]}, "mark": {"type": "text", "text": ["Cell medium", "R² = 0.995", "EC₅₀ = 2.114 μM"], "align": "left", "baseline": "top", "fontSize": 9, "lineHeight": 13, "color": "#222"}, "encoding": {"x": {"datum": 29}, "y": {"datum": 1.085}}}
   ]},
   {"title": {"text": "h"}, "width": 210, "height": 140, "layer": [
    {"data": {"name": "diag"}, "mark": {"type": "line", "color": "#333", "strokeWidth": 1, "strokeDash": [2, 2]},
     "encoding": {"x": {"field": "x", "type": "quantitative", "scale": {"type": "log", "domain": [10, 10000], "nice": false}, "axis": {"values": [10, 100, 1000, 10000], "format": "~g"}, "title": "LC-MS/MS (D-2-HG, μM)"},
                  "y": {"field": "y", "type": "quantitative", "scale": {"type": "log", "domain": [10, 10000], "nice": false}, "axis": {"values": [10, 100, 1000, 10000], "format": "~g"}, "title": "BD2HG-1 (D-2-HG, μM)"}}},
    {"data": {"name": "scatH"}, "mark": {"type": "point", "shape": "circle", "filled": true, "fill": "#ff0000", "stroke": "#111", "strokeWidth": 1, "size": 38, "opacity": 1}, "encoding": {"x": {"field": "x", "type": "quantitative", "title": "LC-MS/MS (D-2-HG, μM)"}, "y": {"field": "y", "type": "quantitative", "title": "BD2HG-1 (D-2-HG, μM)"}}},
    {"data": {"values": [{}]}, "mark": {"type": "text", "text": ["Cell medium", "R² = 0.993"], "align": "left", "baseline": "top", "fontSize": 9, "lineHeight": 13, "color": "#222"}, "encoding": {"x": {"datum": 12.9}, "y": {"datum": 9700}}}
   ]}
  ]},
  {"title": {"text": "i"}, "width": 237, "height": 140, "layer": [
    {"data": {"name": "barsI"}, "mark": {"type": "bar", "stroke": "#222", "strokeWidth": 1},
     "encoding": {"x": {"field": "group", "type": "nominal", "scale": {"domain": ["HEK293FT", "HEK293FT-IDH1/R132H", "HT1080"], "paddingInner": 0, "paddingOuter": 0}, "axis": {"labelAngle": 0}, "title": null},
                  "xOffset": {"field": "treatment", "type": "nominal", "scale": {"domain": ["DMSO", "GSK864", "AGI-6780"], "paddingInner": 0.29, "paddingOuter": 0.415}},
                  "y": {"field": "mean", "type": "quantitative", "scale": {"domain": [0, 200], "nice": false}, "axis": {"values": [0, 50, 100, 150, 200]}, "title": "D-2-HG (μM)"},
                  "color": {"field": "treatment", "type": "nominal", "scale": {"domain": ["DMSO", "GSK864", "AGI-6780"], "range": ["#a8a8a8", "#666666", "#ffffff"]},
                           "legend": {"orient": "none", "legendX": 535, "legendY": 426, "direction": "horizontal", "title": null, "symbolType": "M-1,-0.3H1V0.3H-1Z", "symbolSize": 324, "symbolStrokeColor": "#222", "symbolStrokeWidth": 1, "symbolOpacity": 1, "labelFontSize": 9.5, "labelColor": "#222", "columnPadding": 22, "labelOffset": 6}}}},
    {"data": {"name": "barsI"}, "transform": [{"filter": "datum.group === 'HEK293FT-IDH1/R132H' && datum.treatment === 'DMSO'"}], "mark": {"type": "bar", "stroke": "#222", "strokeWidth": 1, "fill": {"gradient": "linear", "x1": 0, "y1": 0, "x2": 0.184, "y2": 1.132, "stops": [{"offset":0,"color":"#fff"},{"offset":0.013,"color":"#fff"},{"offset":0.0259,"color":"#000"},{"offset":0.037,"color":"#fff"},{"offset":0.05,"color":"#fff"},{"offset":0.063,"color":"#000"},{"offset":0.0741,"color":"#fff"},{"offset":0.087,"color":"#fff"},{"offset":0.1,"color":"#000"},{"offset":0.1111,"color":"#fff"},{"offset":0.1241,"color":"#fff"},{"offset":0.137,"color":"#000"},{"offset":0.1481,"color":"#fff"},{"offset":0.1611,"color":"#fff"},{"offset":0.1741,"color":"#000"},{"offset":0.1852,"color":"#fff"},{"offset":0.1981,"color":"#fff"},{"offset":0.2111,"color":"#000"},{"offset":0.2222,"color":"#fff"},{"offset":0.2352,"color":"#fff"},{"offset":0.2481,"color":"#000"},{"offset":0.2593,"color":"#fff"},{"offset":0.2722,"color":"#fff"},{"offset":0.2852,"color":"#000"},{"offset":0.2963,"color":"#fff"},{"offset":0.3093,"color":"#fff"},{"offset":0.3222,"color":"#000"},{"offset":0.3333,"color":"#fff"},{"offset":0.3463,"color":"#fff"},{"offset":0.3593,"color":"#000"},{"offset":0.3704,"color":"#fff"},{"offset":0.3833,"color":"#fff"},{"offset":0.3963,"color":"#000"},{"offset":0.4074,"color":"#fff"},{"offset":0.4204,"color":"#fff"},{"offset":0.4333,"color":"#000"},{"offset":0.4444,"color":"#fff"},{"offset":0.4574,"color":"#fff"},{"offset":0.4704,"color":"#000"},{"offset":0.4815,"color":"#fff"},{"offset":0.4944,"color":"#fff"},{"offset":0.5074,"color":"#000"},{"offset":0.5185,"color":"#fff"},{"offset":0.5315,"color":"#fff"},{"offset":0.5444,"color":"#000"},{"offset":0.5556,"color":"#fff"},{"offset":0.5685,"color":"#fff"},{"offset":0.5815,"color":"#000"},{"offset":0.5926,"color":"#fff"},{"offset":0.6056,"color":"#fff"},{"offset":0.6185,"color":"#000"},{"offset":0.6296,"color":"#fff"},{"offset":0.6426,"color":"#fff"},{"offset":0.6556,"color":"#000"},{"offset":0.6667,"color":"#fff"},{"offset":0.6796,"color":"#fff"},{"offset":0.6926,"color":"#000"},{"offset":0.7037,"color":"#fff"},{"offset":0.7167,"color":"#fff"},{"offset":0.7296,"color":"#000"},{"offset":0.7407,"color":"#fff"},{"offset":0.7537,"color":"#fff"},{"offset":0.7667,"color":"#000"},{"offset":0.7778,"color":"#fff"},{"offset":0.7907,"color":"#fff"},{"offset":0.8037,"color":"#000"},{"offset":0.8148,"color":"#fff"},{"offset":0.8278,"color":"#fff"},{"offset":0.8407,"color":"#000"},{"offset":0.8519,"color":"#fff"},{"offset":0.8648,"color":"#fff"},{"offset":0.8778,"color":"#000"},{"offset":0.8889,"color":"#fff"},{"offset":0.9019,"color":"#fff"},{"offset":0.9148,"color":"#000"},{"offset":0.9259,"color":"#fff"},{"offset":0.9389,"color":"#fff"},{"offset":0.9519,"color":"#000"},{"offset":0.963,"color":"#fff"},{"offset":0.9759,"color":"#fff"},{"offset":0.9889,"color":"#000"},{"offset":1,"color":"#fff"}]}}, "encoding": {"x": {"field": "group", "type": "nominal", "title": null}, "xOffset": {"field": "treatment", "type": "nominal"}, "y": {"field": "mean", "type": "quantitative", "title": "D-2-HG (μM)"}}},
    {"data": {"name": "barsI"}, "transform": [{"filter": "datum.group === 'HT1080' && datum.treatment === 'DMSO'"}], "mark": {"type": "bar", "stroke": "#222", "strokeWidth": 1, "fill": {"gradient": "linear", "x1": 0, "y1": 0, "x2": 0.37, "y2": 1.195, "stops": [{"offset":0,"color":"#fff"},{"offset":0.0219,"color":"#fff"},{"offset":0.0438,"color":"#000"},{"offset":0.0625,"color":"#fff"},{"offset":0.0844,"color":"#fff"},{"offset":0.1063,"color":"#000"},{"offset":0.125,"color":"#fff"},{"offset":0.1469,"color":"#fff"},{"offset":0.1688,"color":"#000"},{"offset":0.1875,"color":"#fff"},{"offset":0.2094,"color":"#fff"},{"offset":0.2313,"color":"#000"},{"offset":0.25,"color":"#fff"},{"offset":0.2719,"color":"#fff"},{"offset":0.2938,"color":"#000"},{"offset":0.3125,"color":"#fff"},{"offset":0.3344,"color":"#fff"},{"offset":0.3563,"color":"#000"},{"offset":0.375,"color":"#fff"},{"offset":0.3969,"color":"#fff"},{"offset":0.4188,"color":"#000"},{"offset":0.4375,"color":"#fff"},{"offset":0.4594,"color":"#fff"},{"offset":0.4813,"color":"#000"},{"offset":0.5,"color":"#fff"},{"offset":0.5219,"color":"#fff"},{"offset":0.5438,"color":"#000"},{"offset":0.5625,"color":"#fff"},{"offset":0.5844,"color":"#fff"},{"offset":0.6063,"color":"#000"},{"offset":0.625,"color":"#fff"},{"offset":0.6469,"color":"#fff"},{"offset":0.6688,"color":"#000"},{"offset":0.6875,"color":"#fff"},{"offset":0.7094,"color":"#fff"},{"offset":0.7313,"color":"#000"},{"offset":0.75,"color":"#fff"},{"offset":0.7719,"color":"#fff"},{"offset":0.7938,"color":"#000"},{"offset":0.8125,"color":"#fff"},{"offset":0.8344,"color":"#fff"},{"offset":0.8563,"color":"#000"},{"offset":0.875,"color":"#fff"},{"offset":0.8969,"color":"#fff"},{"offset":0.9188,"color":"#000"},{"offset":0.9375,"color":"#fff"},{"offset":0.9594,"color":"#fff"},{"offset":0.9813,"color":"#000"},{"offset":1,"color":"#fff"}]}}, "encoding": {"x": {"field": "group", "type": "nominal", "title": null}, "xOffset": {"field": "treatment", "type": "nominal"}, "y": {"field": "mean", "type": "quantitative", "title": "D-2-HG (μM)"}}},
    {"data": {"name": "barsI"}, "mark": {"type": "rule", "color": "#222", "strokeWidth": 1}, "encoding": {"x": {"field": "group", "type": "nominal", "title": null}, "xOffset": {"field": "treatment", "type": "nominal"}, "y": {"field": "lo", "type": "quantitative", "title": "D-2-HG (μM)"}, "y2": {"field": "hi"}}},
    {"data": {"name": "barsI"}, "mark": {"type": "tick", "orient": "horizontal", "color": "#222", "size": 9, "thickness": 1}, "encoding": {"x": {"field": "group", "type": "nominal", "title": null}, "xOffset": {"field": "treatment", "type": "nominal"}, "y": {"field": "hi", "type": "quantitative", "title": "D-2-HG (μM)"}}},
    {"data": {"name": "barsI"}, "mark": {"type": "tick", "orient": "horizontal", "color": "#222", "size": 9, "thickness": 1}, "encoding": {"x": {"field": "group", "type": "nominal", "title": null}, "xOffset": {"field": "treatment", "type": "nominal"}, "y": {"field": "lo", "type": "quantitative", "title": "D-2-HG (μM)"}}},
    {"data": {"name": "ptsI"}, "mark": {"type": "point", "shape": "circle", "filled": true, "fill": "#fff", "stroke": "#222", "strokeWidth": 0.8, "size": 14, "opacity": 1}, "encoding": {"x": {"field": "group", "type": "nominal", "title": null}, "xOffset": {"field": "treatment", "type": "nominal"}, "y": {"field": "v", "type": "quantitative", "title": "D-2-HG (μM)"}}},
    {"data": {"name": "ndI"}, "mark": {"type": "text", "text": "n.d.", "angle": 270, "align": "left", "baseline": "middle", "fontSize": 8.5, "color": "#444"}, "encoding": {"x": {"field": "group", "type": "nominal", "title": null}, "xOffset": {"field": "treatment", "type": "nominal"}, "y": {"datum": 4, "type": "quantitative"}}},
    {"data": {"name": "sigI"}, "mark": {"type": "line", "color": "#222", "strokeWidth": 1}, "encoding": {"x": {"field": "group", "type": "nominal", "title": null}, "xOffset": {"field": "treatment", "type": "nominal"}, "y": {"field": "y", "type": "quantitative", "title": "D-2-HG (μM)"}, "detail": {"field": "id", "type": "nominal"}}},
    {"data": {"name": "starI"}, "mark": {"type": "text", "baseline": "alphabetic", "dx": -11, "dy": 2, "fontSize": 9, "color": "#222"}, "encoding": {"x": {"field": "group", "type": "nominal", "title": null}, "xOffset": {"field": "treatment", "type": "nominal"}, "y": {"field": "y", "type": "quantitative", "title": "D-2-HG (μM)"}, "text": {"field": "label"}}},
    {"data": {"name": "nsI"}, "mark": {"type": "text", "baseline": "alphabetic", "dy": -2, "fontSize": 9, "color": "#222"}, "encoding": {"x": {"field": "group", "type": "nominal", "title": null}, "xOffset": {"field": "treatment", "type": "nominal"}, "y": {"field": "y", "type": "quantitative", "title": "D-2-HG (μM)"}, "text": {"field": "label"}}}
  ]}
 ]}
]
}
